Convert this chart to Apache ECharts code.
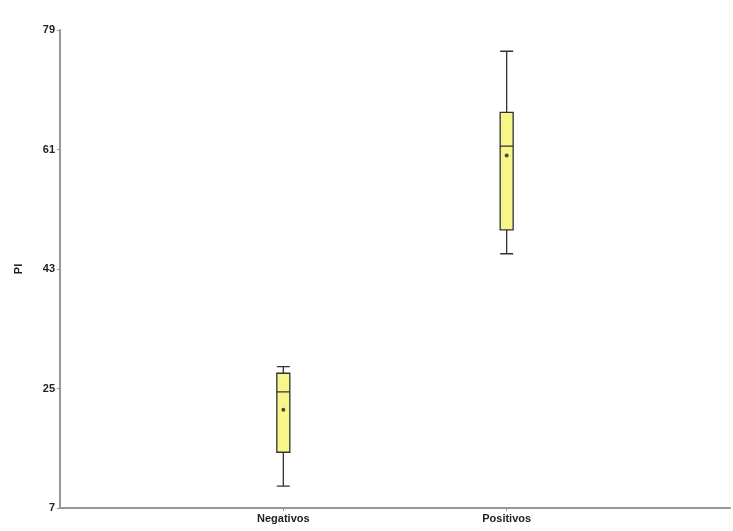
<!DOCTYPE html>
<html>
<head>
<meta charset="utf-8">
<script src="https://cdn.jsdelivr.net/npm/echarts@6/dist/echarts.min.js"></script>
<style>
  html, body { margin: 0; padding: 0; background: #fff; }
  #chart { width: 733px; height: 531px; }
</style>
</head>
<body>
<div id="chart"></div>
<script>
// categories, padded with empty slots on both ends
const categories = ['', 'Negativos', 'Positivos', '']
// [min, q1, median, q3, max]
const negativos = [10.3, 15.4, 24.5, 27.3, 28.3]
const positivos = [45.3, 48.9, 61.5, 66.6, 75.8]
const means = [21.8, 60.1]
const yTicks = [7, 25, 43, 61, 79]

const font = "'Liberation Sans Narrow', 'Liberation Sans', 'DejaVu Sans Condensed', sans-serif"

const chart = echarts.init(document.getElementById('chart'))

chart.setOption({
  animation: false,
  grid: { left: 60, width: 682, top: 30, bottom: 23 },
  xAxis: {
    type: 'category',
    data: categories,
    boundaryGap: false,
    axisLine: { lineStyle: { color: '#999', width: 2 } },
    axisTick: {
      length: 3,
      interval: (i, v) => v !== '',
      lineStyle: { color: '#999' }
    },
    axisLabel: {
      interval: 0,
      color: '#222',
      fontFamily: font,
      fontWeight: 'bold',
      fontSize: 11,
      margin: 5
    },
    splitLine: { show: false }
  },
  yAxis: {
    type: 'value',
    min: 7,
    max: 79,
    name: 'PI',
    nameLocation: 'middle',
    nameGap: 36,
    nameRotate: 90,
    nameTextStyle: { color: '#222', fontFamily: font, fontWeight: 'bold', fontSize: 11 },
    axisLine: { show: true, lineStyle: { color: '#999', width: 2 } },
    axisTick: { show: true, length: 3, customValues: yTicks, lineStyle: { color: '#999' } },
    axisLabel: {
      customValues: yTicks,
      color: '#222',
      fontFamily: font,
      fontWeight: 'bold',
      fontSize: 11,
      margin: 5
    },
    splitLine: { show: false }
  },
  series: [
    {
      type: 'boxplot',
      boxWidth: [13, 13],
      itemStyle: { color: '#f6f68a', borderColor: '#333', borderWidth: 1.3 },
      encode: { x: 0, y: [1, 2, 3, 4, 5] },
      data: [
        ['Negativos', ...negativos],
        ['Positivos', ...positivos]
      ]
    },
    {
      type: 'scatter',
      symbol: 'circle',
      symbolSize: 4,
      itemStyle: { color: '#222' },
      data: [['Negativos', means[0]], ['Positivos', means[1]]]
    }
  ]
})
</script>
</body>
</html>
